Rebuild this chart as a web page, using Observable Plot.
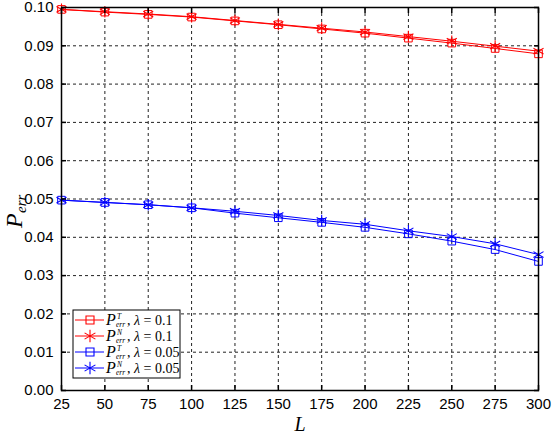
<!DOCTYPE html>
<html>
<head>
<meta charset="utf-8">
<script src="https://cdn.jsdelivr.net/npm/d3@7"></script>
<script src="https://cdn.jsdelivr.net/npm/@observablehq/plot@0.6"></script>
<style>
  body { margin: 0; background: white; }
</style>
</head>
<body>
<div id="chart"></div>
<script>
const L = [25, 50, 75, 100, 125, 150, 175, 200, 225, 250, 275, 300];
const pT01 = [0.0995, 0.0988, 0.0982, 0.0975, 0.0965, 0.0955, 0.0944, 0.0933, 0.0920, 0.0907, 0.0893, 0.0879];
const pN01 = [0.0995, 0.0989, 0.0983, 0.0976, 0.0966, 0.0956, 0.0946, 0.0936, 0.0924, 0.0912, 0.0899, 0.0886];
const pT005 = [0.0497, 0.0491, 0.0485, 0.0477, 0.0463, 0.0451, 0.0439, 0.0426, 0.0409, 0.0390, 0.0368, 0.0337];
const pN005 = [0.0497, 0.0491, 0.0485, 0.0477, 0.0468, 0.0457, 0.0444, 0.0434, 0.0417, 0.0402, 0.0383, 0.0355];

const seriesNames = ['T01', 'N01', 'T005', 'N005'];
const seriesSup = ['T', 'N', 'T', 'N'];
const seriesLambda = ['0.1', '0.1', '0.05', '0.05'];
const seriesColor = ['red', 'red', 'blue', 'blue'];
const seriesSymbol = ['square', 'asterisk', 'square', 'asterisk'];

const xTicks = [25, 50, 75, 100, 125, 150, 175, 200, 225, 250, 275, 300];
const yTicks = [0, 0.01, 0.02, 0.03, 0.04, 0.05, 0.06, 0.07, 0.08, 0.09, 0.10];

const values = [pT01, pN01, pT005, pN005];
const rows = [];
seriesNames.forEach((s, i) => {
  L.forEach((l, j) => rows.push({L: l, P: values[i][j], series: s}));
});

const sans = 'Liberation Sans, Arial, sans-serif';
const serif = 'Liberation Serif, Times New Roman, serif';
const colorOf = d => seriesColor[seriesNames.indexOf(d.series)];

let chart = Plot.plot({
  width: 552,
  height: 434,
  marginLeft: 61,
  marginRight: 14,
  marginTop: 7,
  marginBottom: 44,
  x: { domain: [25, 300] },
  y: { domain: [0, 0.1] },
  style: { fontFamily: sans, fontSize: 15, color: 'black', background: 'white' },
  marks: [
    Plot.gridX(xTicks, { stroke: '#222', strokeOpacity: 1, strokeDasharray: '3,3' }),
    Plot.gridY(yTicks, { stroke: '#222', strokeOpacity: 1, strokeDasharray: '3,3' }),
    Plot.line(rows, { x: 'L', y: 'P', z: 'series', stroke: colorOf, strokeWidth: 1 }),
    Plot.dot(rows.filter(d => d.series[0] == 'T'), {
      x: 'L', y: 'P', symbol: 'square', r: 4.3, stroke: colorOf, fill: 'none', strokeWidth: 1
    }),
    Plot.dot(rows.filter(d => d.series[0] == 'N'), {
      x: 'L', y: 'P', symbol: 'asterisk', r: 5.5, stroke: colorOf, strokeWidth: 1.1
    }),
    Plot.axisX({ ticks: xTicks, tickSize: -5, tickPadding: 13, label: null, fontSize: 15, strokeWidth: 1.5 }),
    Plot.axisX({ anchor: 'top', ticks: xTicks, tickSize: -5, tickFormat: () => '', label: null, strokeWidth: 1.5 }),
    Plot.axisY({ ticks: yTicks, tickSize: -5, tickPadding: 13, tickFormat: d3.format('.2f'), label: null, fontSize: 15, strokeWidth: 1.5 }),
    Plot.axisY({ anchor: 'right', ticks: yTicks, tickSize: -5, tickFormat: () => '', label: null, strokeWidth: 1.5 }),
    Plot.frame({ stroke: 'black', strokeWidth: 1.5 }),
  ],
});

const svg = d3.select(chart);

// axis titles
svg.append('text')
  .attr('x', 300).attr('y', 431)
  .attr('text-anchor', 'middle')
  .attr('font-family', serif).attr('font-style', 'italic').attr('font-size', 20)
  .text('L');

const yl = svg.append('g').attr('transform', 'translate(22,228) rotate(-90)')
  .attr('text-anchor', 'start').attr('font-family', serif).attr('font-style', 'italic');
yl.append('text').attr('font-size', 24).text('P');
yl.append('text').attr('x', 15).attr('y', 4).attr('font-size', 15).text('err');

// legend
const lg = svg.append('g').attr('text-anchor', 'start');
lg.append('rect')
  .attr('x', 73).attr('y', 310).attr('width', 107).attr('height', 68)
  .attr('fill', 'white').attr('stroke', 'black').attr('stroke-width', 1);

seriesNames.forEach((s, i) => {
  const cy = 320 + i * 16;
  lg.append('line')
    .attr('x1', 75).attr('x2', 104).attr('y1', cy).attr('y2', cy)
    .attr('stroke', seriesColor[i]).attr('stroke-width', 1);
  const sym = seriesSymbol[i] == 'square' ? d3.symbolSquare : d3.symbolAsterisk;
  lg.append('path')
    .attr('transform', `translate(90,${cy})`)
    .attr('d', d3.symbol(sym, seriesSymbol[i] == 'square' ? 64 : 110)())
    .attr('fill', 'none').attr('stroke', seriesColor[i]).attr('stroke-width', 1.1);
  const t = lg.append('g').attr('font-family', serif).attr('fill', 'black');
  t.append('text').attr('x', 106).attr('y', cy + 5)
    .attr('font-style', 'italic').attr('font-size', 16).text('P');
  t.append('text').attr('x', 117).attr('y', cy - 1)
    .attr('font-style', 'italic').attr('font-size', 7.5).text(seriesSup[i]);
  t.append('text').attr('x', 116).attr('y', cy + 6.5)
    .attr('font-style', 'italic').attr('font-size', 7.5).text('err');
  const rest = t.append('text').attr('x', 127).attr('y', cy + 5).attr('font-size', 14);
  rest.append('tspan').text(', ');
  rest.append('tspan').attr('font-style', 'italic').text('λ');
  rest.append('tspan').text(' = ' + seriesLambda[i]);
});

d3.select('#chart').append(() => chart);
</script>
</body>
</html>
